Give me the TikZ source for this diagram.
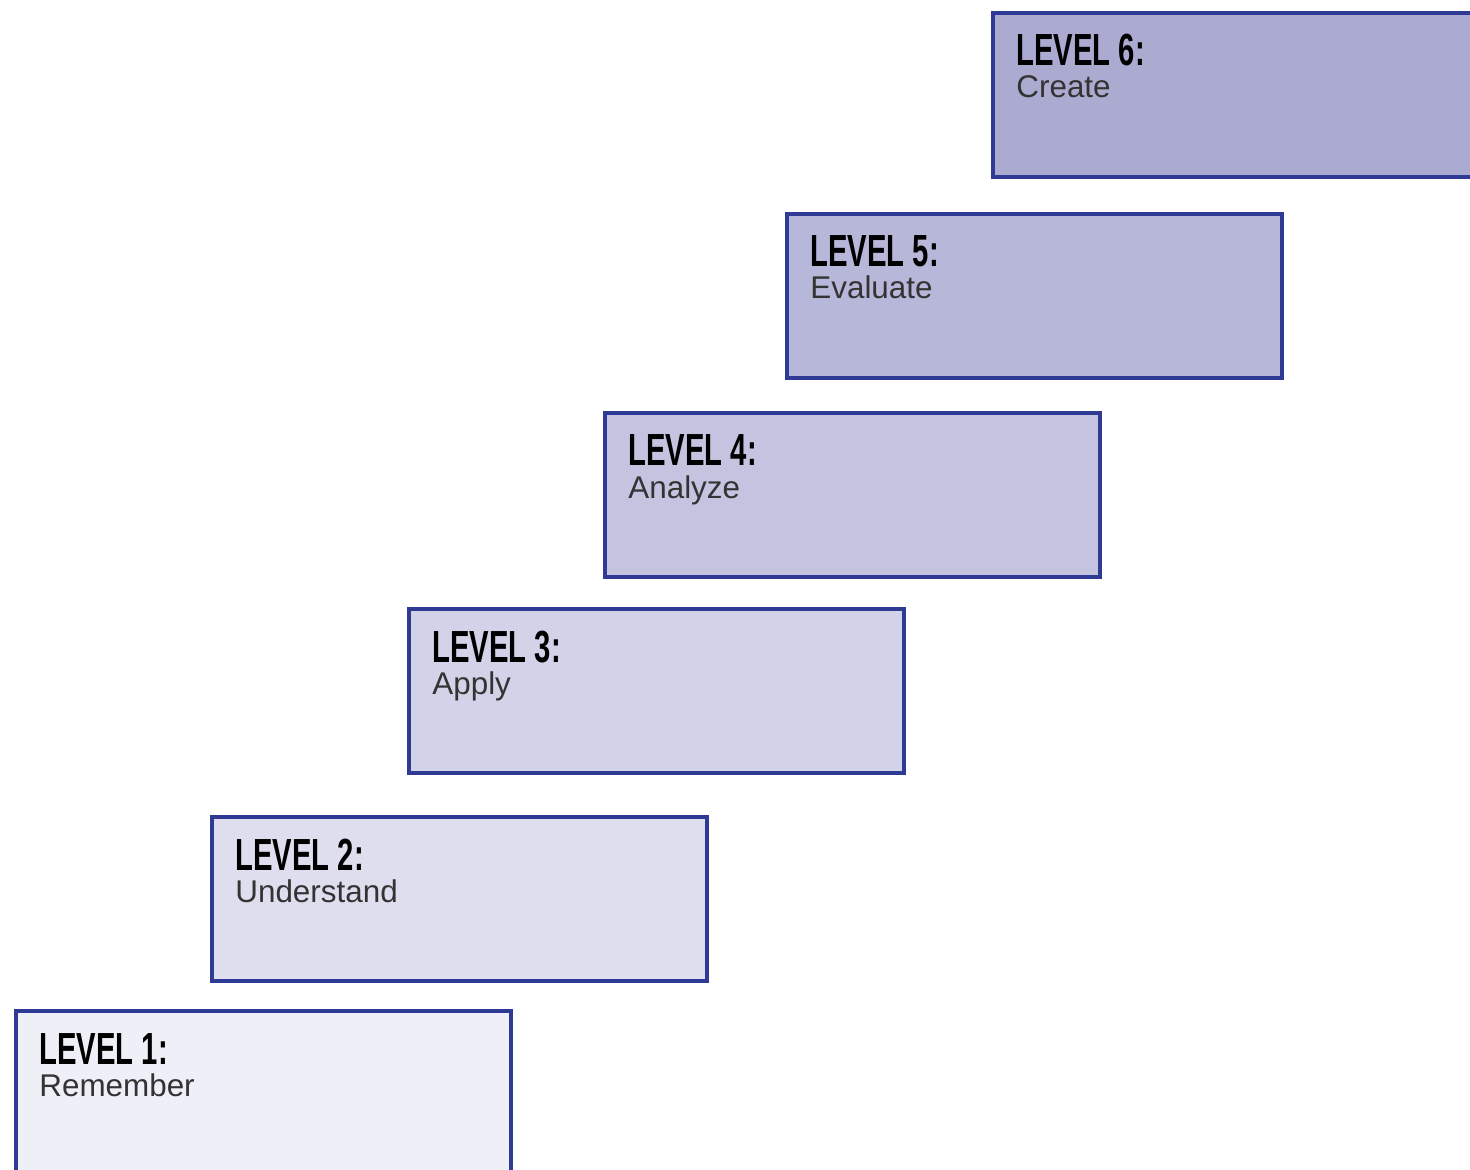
\documentclass[tikz,border=0pt]{standalone}
\usepackage{fontspec}
\setmainfont{Liberation Sans}
\newfontfamily\headfont[FakeStretch=0.65]{Liberation Sans}
\definecolor{edgeblue}{HTML}{2E3A94}
\definecolor{fillA}{HTML}{EEEFF7}
\definecolor{fillB}{HTML}{DEDEEF}
\definecolor{fillC}{HTML}{D2D2E8}
\definecolor{fillD}{HTML}{C4C4E1}
\definecolor{fillE}{HTML}{B7B7D9}
\definecolor{fillF}{HTML}{ABABD1}
\definecolor{subgray}{HTML}{333333}
\tikzset{
  levelbox/.style={draw=edgeblue, line width=2.1pt, rectangle, inner sep=0pt,
    minimum width=247.5pt, minimum height=82pt, anchor=north west},
  headtext/.style={anchor=base west, inner sep=0pt,
    font=\headfont\bfseries\fontsize{22.5}{24}\selectfont, text=black},
  subtext/.style={anchor=base west, inner sep=0pt,
    font=\fontsize{15.7}{17}\selectfont, text=subgray}
}
\begin{document}
\begin{tikzpicture}[x=0.5pt,y=-0.5pt]
\useasboundingbox (0,0) rectangle (1470,1170);
\clip (0,0) rectangle (1470,1170);
\fill[white] (0,0) rectangle (1470,1170);
\node[levelbox, fill=fillF] (b6) at (991,11) {};
\node[levelbox, fill=fillE] (b5) at (785,212) {};
\node[levelbox, fill=fillD] (b4) at (603,411) {};
\node[levelbox, fill=fillC] (b3) at (407,607) {};
\node[levelbox, fill=fillB] (b2) at (210,815) {};
\node[levelbox, fill=fillA] (b1) at (14,1009) {};
\foreach \i/\s in {6/Create,5/Evaluate,4/Analyze,3/Apply,2/Understand,1/Remember}{
  \node[headtext] (h\i) at ([xshift=12.5pt,yshift=-27.5pt]b\i.north west) {LEVEL \i:};
  \node[subtext] (s\i) at ([xshift=12.5pt,yshift=-43.5pt]b\i.north west) {\s};
}
\end{tikzpicture}
\end{document}
